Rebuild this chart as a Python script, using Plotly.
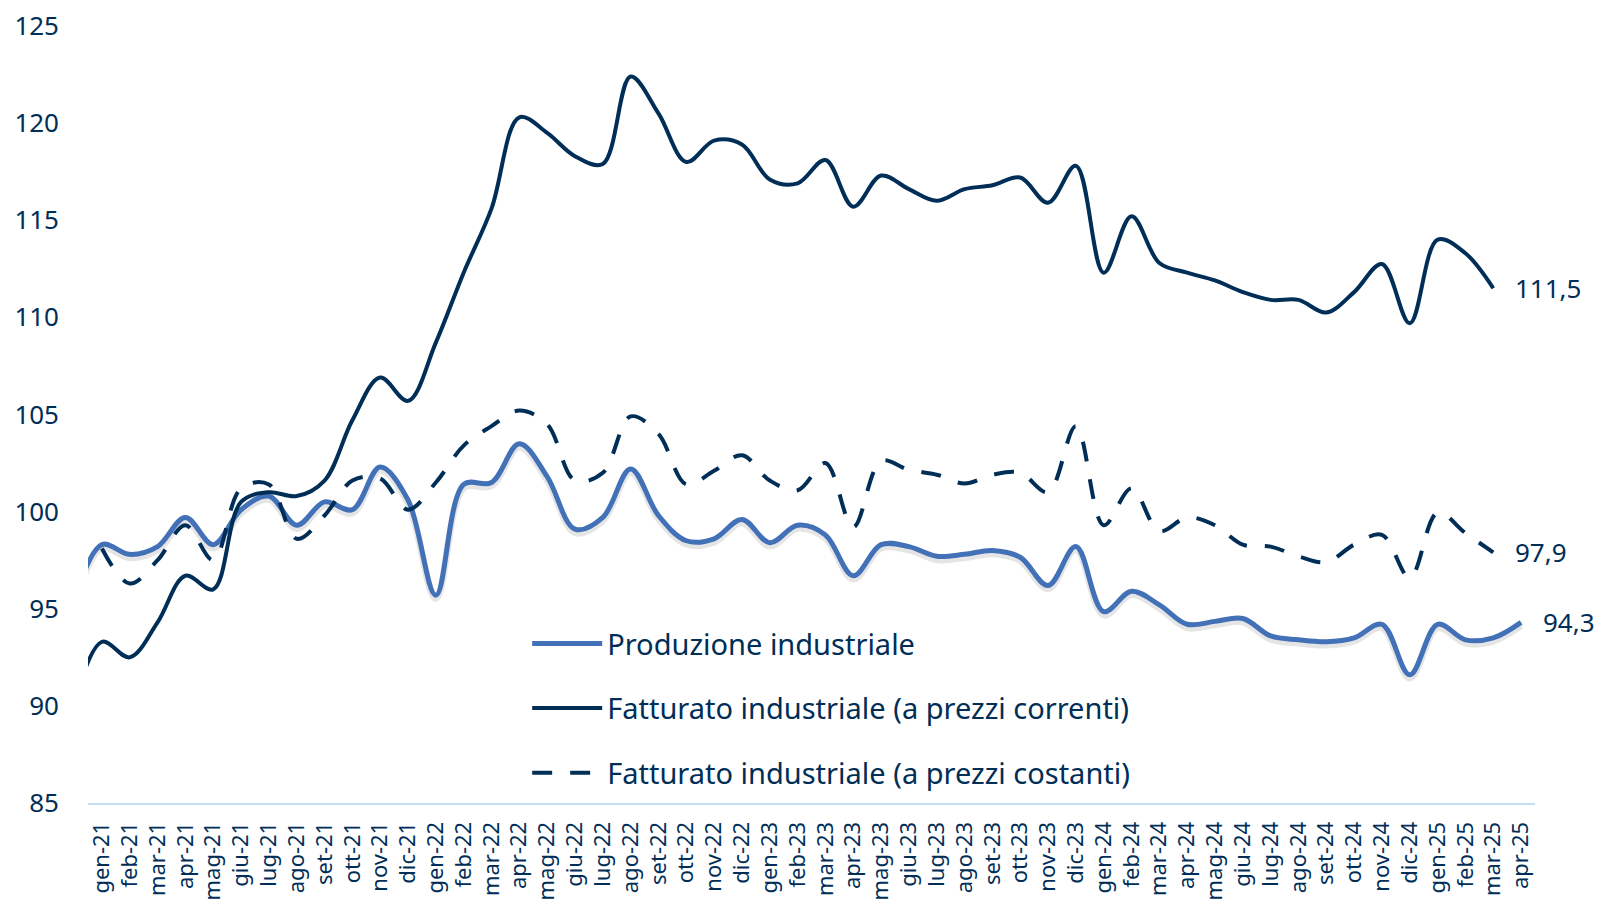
import plotly.graph_objects as go

# mesi (dic-20 serve solo per l'attacco della curva a sinistra, fuori scala)
mesi = ["dic-20",
        "gen-21", "feb-21", "mar-21", "apr-21", "mag-21", "giu-21", "lug-21", "ago-21", "set-21", "ott-21", "nov-21", "dic-21",
        "gen-22", "feb-22", "mar-22", "apr-22", "mag-22", "giu-22", "lug-22", "ago-22", "set-22", "ott-22", "nov-22", "dic-22",
        "gen-23", "feb-23", "mar-23", "apr-23", "mag-23", "giu-23", "lug-23", "ago-23", "set-23", "ott-23", "nov-23", "dic-23",
        "gen-24", "feb-24", "mar-24", "apr-24", "mag-24", "giu-24", "lug-24", "ago-24", "set-24", "ott-24", "nov-24", "dic-24",
        "gen-25", "feb-25", "mar-25", "apr-25"]

produzione = [95.4,
              98.3, 97.8, 98.2, 99.7, 98.3, 100.1, 100.8, 99.3, 100.5, 100.1, 102.3, 100.6,
              95.7, 101.4, 101.5, 103.5, 101.8, 99.1, 99.7, 102.2, 99.8, 98.5, 98.6, 99.6,
              98.4, 99.3, 98.8, 96.7, 98.3, 98.2, 97.7, 97.8, 98.0, 97.65, 96.2, 98.2,
              94.85, 95.9, 95.2, 94.2, 94.35, 94.5, 93.6, 93.4, 93.3, 93.5, 94.2, 91.6,
              94.2, 93.4, 93.5, 94.3]

fatt_correnti = [90.0,
                 93.3, 92.5, 94.3, 96.7, 96.0, 100.5, 101.0, 100.8, 101.6, 104.7, 106.9, 105.7,
                 108.7, 112.3, 115.6, 120.3, 119.5, 118.3, 117.9, 122.4, 120.5, 118.0, 119.1, 118.9,
                 117.1, 116.9, 118.1, 115.7, 117.3, 116.6, 116.0, 116.6, 116.8, 117.2, 115.9, 117.8,
                 112.3, 115.2, 112.8, 112.3, 111.9, 111.3, 110.9, 110.9, 110.25, 111.3, 112.75, 109.7,
                 114.0, 113.3, 111.5, None]

fatt_costanti = [None,
                 98.1, 96.3, 97.5, 99.3, 97.5, 101.2, 101.4, 98.6, 99.8, 101.6, 101.7, 100.1,
                 101.5, 103.4, 104.4, 105.2, 104.5, 101.6, 102.0, 104.9, 104.0, 101.4, 102.1, 102.9,
                 101.6, 101.1, 102.5, 99.2, 102.6, 102.15, 101.9, 101.45, 101.9, 102.0, 101.0, 104.4,
                 99.3, 101.2, 99.0, 99.7, 99.3, 98.3, 98.2, 97.7, 97.4, 98.3, 98.8, 96.6,
                 99.95, 98.9, 97.9, None]

BLU = "#4271B8"
NAVY = "#002E57"
FONT = "Noto Sans"

fig = go.Figure()

# ombra leggera sotto la produzione
fig.add_trace(go.Scatter(x=mesi, y=[v - 0.17 for v in produzione], mode="lines", line_shape="spline",
                         line=dict(color="rgba(0,0,0,0.10)", width=7), showlegend=False, hoverinfo="skip"))
fig.add_trace(go.Scatter(x=mesi, y=produzione, mode="lines", line_shape="spline", name="Produzione industriale",
                         legendgroup="a", line=dict(color=BLU, width=5)))
fig.add_trace(go.Scatter(x=mesi, y=fatt_correnti, mode="lines", line_shape="spline",
                         name="Fatturato industriale (a prezzi correnti)", legendgroup="b",
                         line=dict(color=NAVY, width=4)))
fig.add_trace(go.Scatter(x=mesi, y=fatt_costanti, mode="lines", line_shape="spline",
                         name="Fatturato industriale (a prezzi costanti)", legendgroup="c",
                         line=dict(color=NAVY, width=4, dash="20px,18px")))

# etichette di fine serie
for serie in [fatt_correnti, fatt_costanti, produzione]:
    i = max(k for k, v in enumerate(serie) if v is not None)
    fig.add_annotation(x=mesi[i], y=serie[i], text=f"{serie[i]:.1f}".replace(".", ","),
                       showarrow=False, xanchor="left", xshift=20,
                       font=dict(family=FONT, size=26, color=NAVY))

# la pagina ha 8px di margine del body: figura un po' più piccola
fig.update_layout(
    width=1594, height=904,
    margin=dict(l=80, r=67, t=18, b=109),
    plot_bgcolor="white", paper_bgcolor="white",
    font=dict(family=FONT, color=NAVY),
    legend=dict(x=0.3035, y=0.238, xanchor="left", yanchor="top", bgcolor="rgba(0,0,0,0)",
                font=dict(family=FONT, size=29, color=NAVY), tracegroupgap=24, itemwidth=70),
    xaxis=dict(type="category", range=[0.5, 52.5], tickmode="linear", tick0=0, dtick=1,
               tickangle=-90, tickfont=dict(size=22, color=NAVY), showgrid=False,
               showline=True, linecolor="#C3DDF4", linewidth=2, ticks="", ticklabelstandoff=8,
               zeroline=False, automargin=False),
    yaxis=dict(range=[85, 125], dtick=5, showgrid=False, zeroline=False, showline=False,
               tickfont=dict(size=26, color=NAVY), ticks="", ticklabelstandoff=28, automargin=False,
               ticklabeloverflow="allow"),
)

fig.write_html("out.html")
